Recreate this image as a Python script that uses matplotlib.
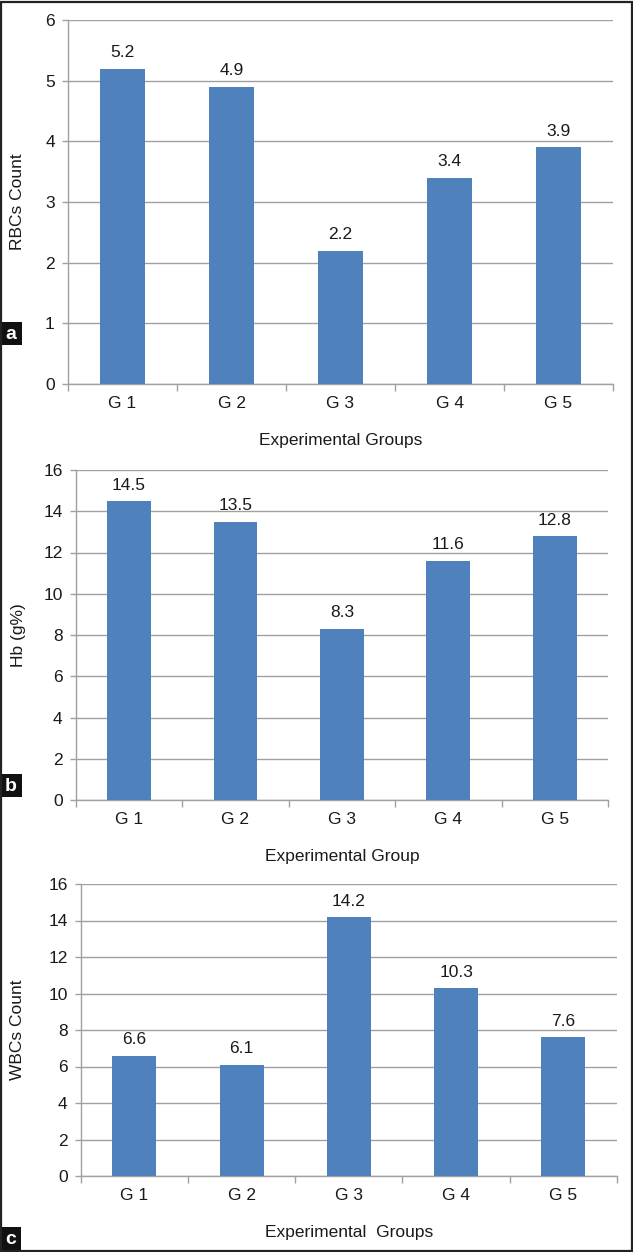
import matplotlib
matplotlib.use('Agg')
import matplotlib.pyplot as plt
from matplotlib.patches import Rectangle

# Data
groups = ['G 1', 'G 2', 'G 3', 'G 4', 'G 5']
rbc_count = [5.2, 4.9, 2.2, 3.4, 3.9]
hb_percent = [14.5, 13.5, 8.3, 11.6, 12.8]
wbc_count = [6.6, 6.1, 14.2, 10.3, 7.6]

W, H = 633, 1252
BAR = '#4F81BD'
GRID = '#A0A0A0'
TXT = '#1a1a1a'
FS = 12.5

plt.rcParams['font.family'] = ['Liberation Sans', 'DejaVu Sans']

fig = plt.figure(figsize=(W / 100, H / 100), dpi=100)


def fx(x):
    return x / W


def fy(y):
    return 1 - y / H


def panel(left, right, top, bottom, values, ymax, ystep, ylabel, xlabel, letter, letter_box):
    ax = fig.add_axes([fx(left), fy(bottom), fx(right - left), (bottom - top) / H])
    x = range(len(values))
    ax.bar(x, values, width=0.41, color=BAR, zorder=3)
    for xi, v in zip(x, values):
        ax.annotate(f'{v:.1f}', (xi, v), xytext=(0, 6), textcoords='offset points',
                    ha='center', va='bottom', fontsize=FS, color=TXT)
    ax.set_xlim(-0.5, len(values) - 0.5)
    ax.set_ylim(0, ymax)
    ax.set_yticks(range(0, ymax + 1, ystep))
    ax.set_xticks(list(x))
    ax.set_xticklabels(groups)
    ax.set_xticks([i - 0.5 for i in range(len(values) + 1)], minor=True)
    ax.tick_params(axis='x', which='major', length=0, pad=9, labelsize=FS, labelcolor=TXT)
    ax.tick_params(axis='x', which='minor', length=5, width=1, color=GRID, direction='out')
    ax.tick_params(axis='y', length=4.5, width=1, color=GRID, pad=5, labelsize=FS, labelcolor=TXT)
    ax.yaxis.grid(True, color=GRID, linewidth=1, zorder=0)
    ax.set_axisbelow(True)
    for s in ['top', 'right']:
        ax.spines[s].set_visible(False)
    for s in ['left', 'bottom']:
        ax.spines[s].set_color(GRID)
        ax.spines[s].set_linewidth(1)
    fig.text(fx(18), fy((top + bottom) / 2), ylabel, rotation=90, ha='center', va='center',
             fontsize=FS, color=TXT)
    fig.text(fx((left + right) / 2), fy(xlabel[1]), xlabel[0], ha='center', va='center',
             fontsize=FS, color=TXT)
    bx0, by0, bx1, by1 = letter_box
    fig.patches.append(Rectangle((fx(bx0), fy(by1)), fx(bx1 - bx0), (by1 - by0) / H,
                                 transform=fig.transFigure, facecolor='#111111',
                                 edgecolor='none', zorder=5))
    fig.text(fx((bx0 + bx1) / 2), fy((by0 + by1) / 2 + 1), letter, ha='center', va='center',
             fontsize=14, fontweight='bold', color='white', zorder=6)
    return ax


panel(68, 613, 20, 384, rbc_count, 6, 1, 'RBCs Count',
      ('Experimental Groups', 440), 'a', (0, 322, 22, 345))
panel(75.7, 608, 470, 800, hb_percent, 16, 2, 'Hb (g%)',
      ('Experimental Group', 857), 'b', (0, 774, 22, 797))
panel(80.7, 617, 884, 1176, wbc_count, 16, 2, 'WBCs Count',
      ('Experimental  Groups', 1232), 'c', (1, 1227, 21, 1250))

# outer frame
fig.patches.append(Rectangle((fx(1), fy(1251)), fx(631), 1249 / H, transform=fig.transFigure,
                             facecolor='none', edgecolor='#222222', linewidth=1.6, zorder=7))

fig.savefig('out.png', dpi=100)
